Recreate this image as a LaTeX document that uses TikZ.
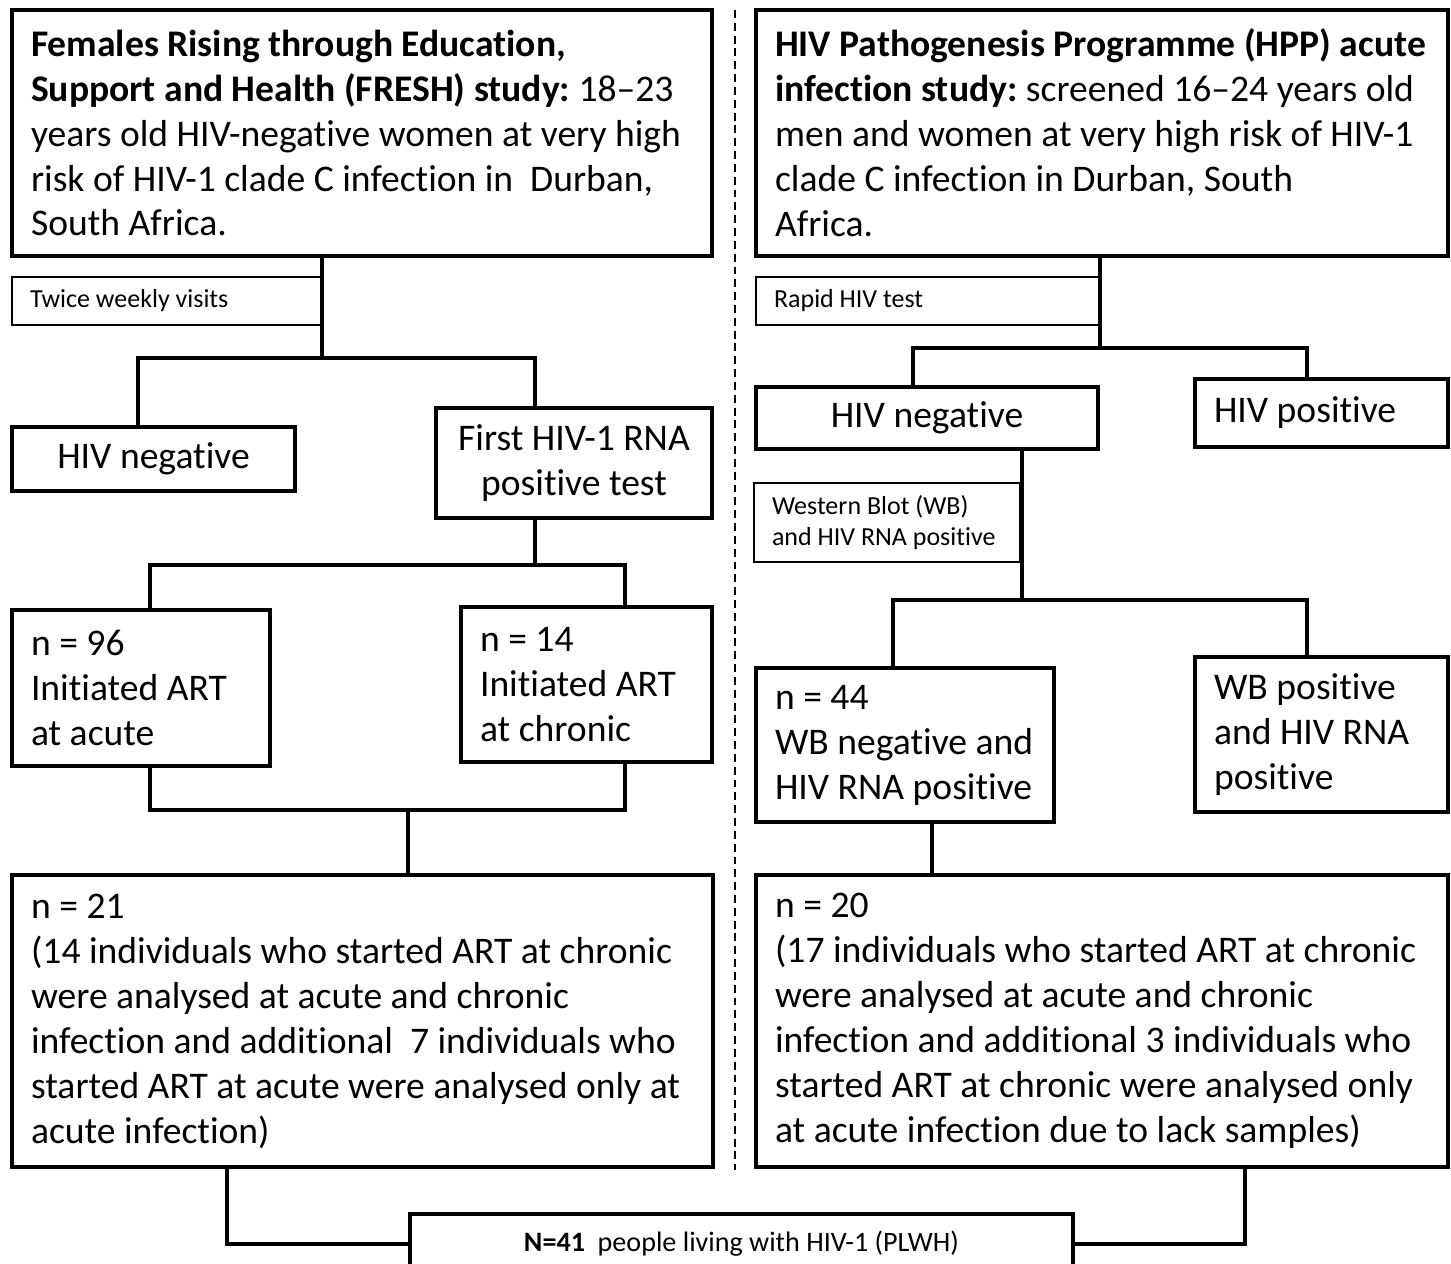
\documentclass[tikz,border=0pt]{standalone}
\usepackage{fontspec}
\setmainfont{Carlito}[Ligatures={TeX,NoCommon}]
\usepackage{tikz}
\usetikzlibrary{positioning,calc}

\begin{document}
\begin{tikzpicture}[x=0.02cm,y=-0.02cm,
  box/.style={draw, line width=2.4pt, inner xsep=0.38cm, inner ysep=0pt, align=flush left, font=\fontsize{21.4}{25.6}\selectfont\frenchspacing},
  cbox/.style={box, align=flush center},
  tag/.style={draw, line width=1.1pt, inner xsep=0.36cm, inner ysep=0pt, align=flush left, font=\fontsize{14.8}{17.6}\selectfont\frenchspacing},
  conn/.style={line width=2pt, line cap=rect},
  divider/.style={line width=0.7pt, dash pattern=on 4.5pt off 2.8pt}
]
\useasboundingbox (0,0) rectangle (1451,1264);
\clip (0,0) rectangle (1451,1264);

\node[box, text width=13.24cm, minimum height=4.92cm] (fresh) at (362,133) {\textbf{Females Rising through Education,}\\ \textbf{Support and Health (FRESH) study:} 18--23\\ years old HIV-negative women at very high\\ risk of HIV-1 clade C infection in~ Durban,\\ South Africa.};
\node[box, text width=13.08cm, minimum height=4.92cm] (hpp) at (1102,133) {\textbf{HIV Pathogenesis Programme (HPP) acute}\\ \textbf{infection study:} screened 16--24 years old\\ men and women at very high risk of HIV-1\\ clade C infection in Durban, South\\ Africa.};

\node[tag, text width=5.48cm, minimum height=0.96cm] (twice) at (167,301) {Twice weekly visits};
\node[tag, text width=6.16cm, minimum height=0.96cm] (rapid) at (928,301) {Rapid HIV test};

\node[cbox, text width=4.9cm, minimum height=1.28cm] (negL) at (153.5,459) {HIV negative};
\node[cbox, text width=4.76cm, minimum height=2.2cm] (first) at (574,463) {First HIV-1 RNA\\ positive test};
\node[cbox, text width=6.08cm, minimum height=1.24cm] (negR) at (927,418) {HIV negative};
\node[box, text width=4.3cm, minimum height=1.36cm] (pos) at (1321.5,413) {HIV positive};

\node[tag, text width=4.6cm, minimum height=1.58cm] (wb) at (887,522.5) {Western Blot (WB)\\ and HIV RNA positive};

\node[box, text width=4.4cm, minimum height=3.12cm] (n96) at (141,688) {n = 96\\ Initiated ART\\ at acute};
\node[box, text width=4.26cm, minimum height=3.1cm] (n14) at (586.5,684.5) {n = 14\\ Initiated ART\\ at chronic};
\node[box, text width=5.2cm, minimum height=3.08cm] (n44) at (905,745) {n = 44\\ WB negative and\\ HIV RNA positive};
\node[box, text width=4.3cm, minimum height=3.1cm] (wbpos) at (1321.5,734.5) {WB positive\\ and HIV RNA\\ positive};

\node[box, text width=13.26cm, minimum height=5.84cm] (n21) at (362.5,1021) {n = 21\\ (14 individuals who started ART at chronic\\ were analysed at acute and chronic\\ infection and additional~ 7 individuals who\\ started ART at acute were analysed only at\\ acute infection)};
\node[box, text width=13.08cm, minimum height=5.84cm] (n20) at (1102,1021) {n = 20\\ (17 individuals who started ART at chronic\\ were analysed at acute and chronic\\ infection and additional 3 individuals who\\ started ART at chronic were analysed only\\ at acute infection due to lack samples)};

\node[cbox, text width=12.5cm, minimum height=1.2cm, font=\fontsize{16}{17.6}\selectfont] (total) at (741.5,1244) {\textbf{N=41}~ people living with HIV-1 (PLWH)};

\draw[divider] (735,10) -- (735,1170);

\coordinate (s1) at (322,358);
\coordinate (b1l) at (138,358);
\coordinate (b1r) at (535,358);
\draw[conn] (fresh.south -| s1) -- (s1);
\draw[conn] (negL.north -| b1l) -- (b1l) -- (b1r) -- (first.north -| b1r);

\coordinate (s2) at (535,565);
\coordinate (b2l) at (150,565);
\coordinate (b2r) at (625,565);
\draw[conn] (first.south -| s2) -- (s2);
\draw[conn] (n96.north -| b2l) -- (b2l) -- (b2r) -- (n14.north -| b2r);

\coordinate (b3l) at (150,810);
\coordinate (b3r) at (625,810);
\coordinate (b3m) at (408,810);
\draw[conn] (n96.south -| b3l) -- (b3l) -- (b3r) -- (n14.south -| b3r);
\draw[conn] (b3m) -- (n21.north -| b3m);

\coordinate (s3) at (1100,348);
\coordinate (b4l) at (913,348);
\coordinate (b4r) at (1307,348);
\draw[conn] (hpp.south -| s3) -- (s3);
\draw[conn] (negR.north -| b4l) -- (b4l) -- (b4r) -- (pos.north -| b4r);

\coordinate (s4) at (1022,600);
\coordinate (b5l) at (893,600);
\coordinate (b5r) at (1307,600);
\draw[conn] (negR.south -| s4) -- (s4);
\draw[conn] (n44.north -| b5l) -- (b5l) -- (b5r) -- (wbpos.north -| b5r);

\coordinate (s5) at (932,850);
\draw[conn] (n44.south -| s5) -- (n20.north -| s5);

\coordinate (e1) at (227,1244);
\coordinate (e2) at (1245,1244);
\draw[conn] (n21.south -| e1) -- (e1) -- (total.west |- e1);
\draw[conn] (n20.south -| e2) -- (e2) -- (total.east |- e2);
\end{tikzpicture}
\end{document}
